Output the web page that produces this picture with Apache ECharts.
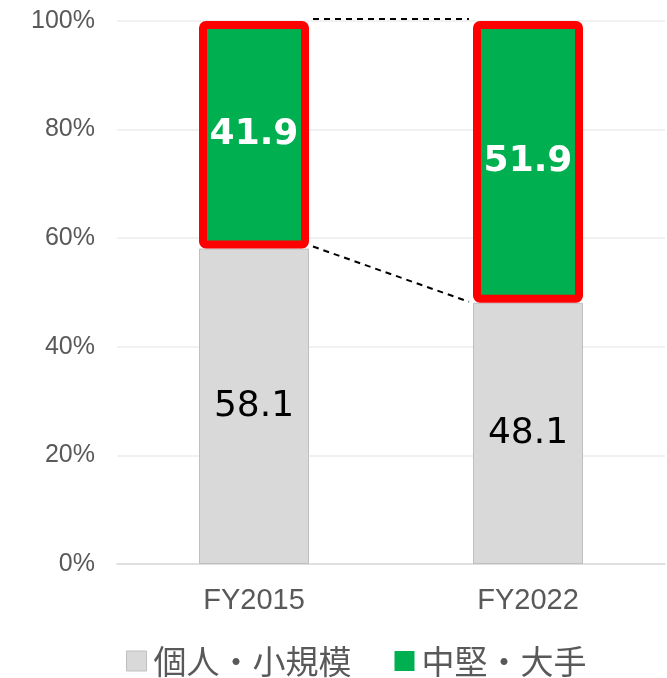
<!DOCTYPE html>
<html>
<head>
<meta charset="utf-8">
<script src="https://cdn.jsdelivr.net/npm/echarts@6/dist/echarts.min.js"></script>
<style>
  html, body { margin: 0; padding: 0; background: #fff; }
  #shareChart { width: 667px; height: 678px; }
</style>
</head>
<body>
<div id="shareChart"></div>
<script>
'use strict';

var categories = ['FY2015', 'FY2022'];
var smallShare = [58.1, 48.1];   // 個人・小規模
var largeShare = [41.9, 51.9];   // 中堅・大手
var yTicks = [0, 20, 40, 60, 80, 100];

var seriesNames = ['個人・小規模', '中堅・大手'];

var BAR_W = 110;
var BORDER_W = 8;

// dashed connectors between the two highlighted boxes
function renderConnectors(params, api) {
    if (params.dataIndex !== 0) {
        return;
    }
    var half = BAR_W / 2 + BORDER_W / 2;
    var topA = api.coord([0, smallShare[0] + largeShare[0]]);
    var topB = api.coord([1, smallShare[1] + largeShare[1]]);
    var lowA = api.coord([0, smallShare[0]]);
    var lowB = api.coord([1, smallShare[1]]);
    var dash = { stroke: '#000', lineWidth: 2, lineDash: [6, 5], fill: null };
    return {
        type: 'group',
        children: [
            { type: 'line', shape: { x1: topA[0] + half, y1: topA[1] - 2, x2: topB[0] - half, y2: topB[1] - 2 }, style: dash },
            { type: 'line', shape: { x1: lowA[0] + half, y1: lowA[1] - 2, x2: lowB[0] - half, y2: lowB[1] - 1 }, style: dash }
        ]
    };
}

var option = {
    animation: false,
    backgroundColor: '#fff',
    grid: {
        left: 117,
        right: 2,
        top: 21,
        bottom: 114,
        outerBoundsMode: 'none'
    },
    legend: {
        data: [
            { name: seriesNames[0], itemStyle: { color: '#d9d9d9', borderColor: '#bfbfbf', borderWidth: 1 } },
            { name: seriesNames[1], itemStyle: { color: '#00b050', borderWidth: 0 } }
        ],
        left: 126,
        top: 643,
        padding: 0,
        icon: 'rect',
        itemWidth: 20,
        itemHeight: 20,
        itemGap: 43,
        textStyle: {
            color: '#595959',
            fontSize: 33,
            fontFamily: 'Noto Sans CJK JP',
            lineHeight: 36,
            padding: [0, 0, 0, 2]
        }
    },
    xAxis: {
        type: 'category',
        data: categories,
        axisLine: { lineStyle: { color: '#d9d9d9', width: 1.5 } },
        axisTick: { length: 9, lineStyle: { color: '#d9d9d9', width: 1.5 } },
        axisLabel: {
            color: '#595959',
            fontSize: 29,
            fontFamily: 'Liberation Sans',
            margin: 22
        }
    },
    yAxis: {
        type: 'value',
        min: yTicks[0],
        max: yTicks[yTicks.length - 1],
        interval: yTicks[1] - yTicks[0],
        axisLine: { show: false },
        axisTick: { show: false },
        splitLine: { lineStyle: { color: '#ececec', width: 1.5 } },
        axisLabel: {
            formatter: '{value}%',
            color: '#595959',
            fontSize: 25,
            fontFamily: 'Liberation Sans',
            margin: 22
        }
    },
    series: [
        {
            name: seriesNames[0],
            type: 'bar',
            stack: 'share',
            barWidth: BAR_W,
            clip: false,
            data: smallShare,
            itemStyle: { color: '#d9d9d9', borderColor: '#bfbfbf', borderWidth: 1 },
            label: {
                show: true,
                position: 'inside',
                color: '#000',
                fontSize: 36,
                fontFamily: 'DejaVu Sans'
            }
        },
        {
            name: seriesNames[1],
            type: 'bar',
            stack: 'share',
            barWidth: BAR_W,
            clip: false,
            data: largeShare,
            itemStyle: { color: '#00b050', borderColor: '#ff0000', borderWidth: BORDER_W, borderRadius: 3 },
            label: {
                show: true,
                position: 'inside',
                color: '#fff',
                fontSize: 36,
                fontWeight: 'bold',
                fontFamily: 'DejaVu Sans'
            }
        },
        {
            type: 'custom',
            silent: true,
            data: [0],
            renderItem: renderConnectors,
            z: 5
        }
    ]
};

var myChart = echarts.init(document.getElementById('shareChart'), null, { renderer: 'canvas' });
myChart.setOption(option);
</script>
</body>
</html>
